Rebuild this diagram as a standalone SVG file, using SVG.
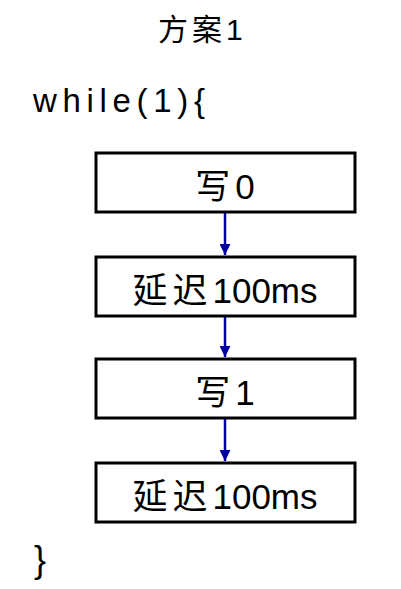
<svg xmlns="http://www.w3.org/2000/svg" width="401" height="589" viewBox="0 0 401 589">
<style>
.box{fill:#fff;stroke:#000;stroke-width:3}
.t{font-family:"Liberation Sans","Noto Sans CJK SC",sans-serif;font-size:35px;text-anchor:middle;fill:#000}
.cj{letter-spacing:5px}
.c{stroke:#0000a0;stroke-width:2.5;fill:none}
</style>
<defs>
<marker id="ah" viewBox="0 0 10 10" refX="10" refY="5" markerWidth="4.6" markerHeight="4.4" markerUnits="strokeWidth" orient="auto">
<path d="M0,0 L10,5 L0,10 z" fill="#0000a0"/>
</marker>
</defs>
<text x="158" y="40" font-family="'Liberation Sans','Noto Sans CJK SC',sans-serif" font-size="30" letter-spacing="4">方案1</text>
<text x="33" y="112" font-family="'Liberation Sans',sans-serif" font-size="33" textLength="172" lengthAdjust="spacing">while(1){</text>
<text x="34" y="572" font-family="'Liberation Sans',sans-serif" font-size="36">}</text>
<g id="n1"><rect class="box" x="96" y="153" width="259" height="59"/><text class="t" x="225" y="199"><tspan class="cj">写</tspan>0</text></g>
<g id="n2"><rect class="box" x="96" y="257" width="259" height="59"/><text class="t" x="225" y="303"><tspan class="cj">延迟</tspan>100ms</text></g>
<g id="n3"><rect class="box" x="96" y="359" width="259" height="59"/><text class="t" x="225" y="405"><tspan class="cj">写</tspan>1</text></g>
<g id="n4"><rect class="box" x="96" y="463" width="259" height="59"/><text class="t" x="225" y="509"><tspan class="cj">延迟</tspan>100ms</text></g>
<g id="edges">
<line class="c" x1="225" y1="213" x2="225" y2="255" marker-end="url(#ah)"/>
<line class="c" x1="225" y1="317" x2="225" y2="357" marker-end="url(#ah)"/>
<line class="c" x1="225" y1="419" x2="225" y2="461" marker-end="url(#ah)"/>
</g>
</svg>
